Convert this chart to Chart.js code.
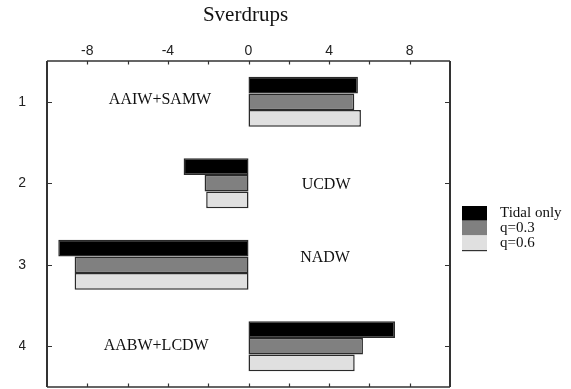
<!DOCTYPE html>
<html>
<head>
<meta charset="utf-8">
<script src="https://cdn.jsdelivr.net/npm/chart.js@4"></script>
<style>
  html, body { margin: 0; padding: 0; background: #fff; }
  #wrap { width: 571px; height: 389px; }
  canvas { display: block; }
</style>
</head>
<body>
<div id="wrap"><canvas id="c" width="571" height="389"></canvas></div>
<script>
'use strict';
// Transport par masse d'eau (Sverdrups) — barres horizontales groupées.
const CATS = ['1', '2', '3', '4'];
const SERIES = ['Tidal only', 'q=0.3', 'q=0.6'];
const TIDAL = [5.43, -3.22, -9.44, 7.27];
const Q03 = [5.25, -2.18, -8.63, 5.68];
const Q06 = [5.58, -2.10, -8.63, 5.27];
const WATER = ['AAIW+SAMW', 'UCDW', 'NADW', 'AABW+LCDW'];
const WATER_X = [-4.39, 3.85, 3.8, -4.58];   // position du texte, en Sv
const WATER_Y = [-0.03, 0.02, -0.08, 0.0];   // décalage en catégories
const COLORS = ['#000000', '#808080', '#e0e0e0'];
const SERIF = '"Liberation Serif", "Times New Roman", serif';
const SANS = '"Liberation Sans", Arial, sans-serif';

const frame = {
  id: 'frame',
  afterDraw(chart) {
    const { ctx, chartArea: a, scales: { x, y } } = chart;
    ctx.save();
    ctx.strokeStyle = '#333';
    // titre
    ctx.fillStyle = '#111';
    ctx.font = '21px ' + SERIF;
    ctx.textAlign = 'center'; ctx.textBaseline = 'alphabetic';
    ctx.fillText('Sverdrups', (a.left + a.right) / 2 - 3, 20.5);
    // cadre
    ctx.lineWidth = 1.5;
    ctx.beginPath();
    ctx.moveTo(a.left, a.top); ctx.lineTo(a.right, a.top);
    ctx.moveTo(a.left, a.bottom); ctx.lineTo(a.right, a.bottom);
    ctx.stroke();
    ctx.lineWidth = 2;
    ctx.beginPath();
    ctx.moveTo(a.left, a.top); ctx.lineTo(a.left, a.bottom);
    ctx.moveTo(a.right, a.top); ctx.lineTo(a.right, a.bottom);
    ctx.stroke();
    // graduations intérieures
    ctx.lineWidth = 1.2;
    ctx.beginPath();
    x.ticks.forEach(t => {
      if (t.value <= x.min || t.value >= x.max) return;
      const px = Math.round(x.getPixelForValue(t.value)) + 0.5;
      ctx.moveTo(px, a.top); ctx.lineTo(px, a.top + 3.5);
      ctx.moveTo(px, a.bottom); ctx.lineTo(px, a.bottom - 3.5);
    });
    CATS.forEach((c, i) => {
      const py = Math.round(y.getPixelForValue(i)) + 0.5;
      ctx.moveTo(a.left, py); ctx.lineTo(a.left + 5, py);
      ctx.moveTo(a.right, py); ctx.lineTo(a.right - 5, py);
    });
    ctx.stroke();
    // noms des masses d'eau
    ctx.font = '16px ' + SERIF;
    ctx.textBaseline = 'middle';
    WATER.forEach((w, i) => ctx.fillText(w, x.getPixelForValue(WATER_X[i]), y.getPixelForValue(i + WATER_Y[i])));
    // légende
    const lx = a.right + 12, ly = 206, bw = 25, bh = 14.7;
    ctx.textAlign = 'left'; ctx.textBaseline = 'alphabetic';
    ctx.font = '15px ' + SERIF;
    chart.data.datasets.forEach((ds, i) => {
      ctx.fillStyle = ds.backgroundColor;
      ctx.fillRect(lx, ly + i * bh, bw, bh);
      ctx.fillStyle = '#111';
      ctx.fillText(ds.label, lx + bw + 13, ly + i * 15 + 10.7);
    });
    ctx.strokeStyle = '#333'; ctx.lineWidth = 1.2;
    ctx.beginPath();
    ctx.moveTo(lx, ly + 3 * bh + 0.5); ctx.lineTo(lx + bw, ly + 3 * bh + 0.5);
    ctx.stroke();
    ctx.restore();
  }
};

// pas de marge automatique autour des axes : le cadre est fixé à la main
const noPad = s => { s.paddingTop = s.paddingBottom = s.paddingLeft = s.paddingRight = 0; };

const vals = [TIDAL, Q03, Q06];
new Chart(document.getElementById('c').getContext('2d'), {
  type: 'bar',
  data: {
    labels: CATS,
    datasets: SERIES.map((s, i) => ({
      label: s, data: vals[i], backgroundColor: COLORS[i],
      borderColor: '#2a2a2a', borderWidth: 1.5, borderSkipped: false,
      barPercentage: 1, categoryPercentage: 0.612,
    })),
  },
  options: {
    indexAxis: 'y',
    responsive: false,
    maintainAspectRatio: false,
    animation: false,
    devicePixelRatio: 1,
    layout: { autoPadding: false, padding: { left: 19, right: 121, top: 43, bottom: 2 } },
    plugins: {
      legend: { display: false },
      tooltip: { enabled: false },
      title: { display: false },
    },
    scales: {
      x: {
        position: 'top', min: -10, max: 10,
        grid: { display: false, drawTicks: false }, border: { display: false },
        afterFit: s => { s.height = 18; noPad(s); },
        ticks: {
          stepSize: 2, autoSkip: false, maxRotation: 0, padding: 1, color: '#222',
          font: { family: SANS, size: 14 },
          callback: v => (v % 4 === 0 ? String(v) : ''),
        },
      },
      y: {
        grid: { display: false, drawTicks: false }, border: { display: false },
        afterFit: s => { s.width = 28; noPad(s); },
        ticks: { padding: 21, color: '#222', font: { family: SANS, size: 14 } },
      },
    },
  },
  plugins: [frame],
});
</script>
</body>
</html>
